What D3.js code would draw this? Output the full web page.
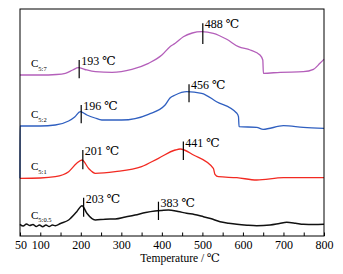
<!DOCTYPE html>
<html>
<head>
<meta charset="utf-8">
<script src="https://cdn.jsdelivr.net/npm/d3@7/dist/d3.min.js"></script>
<style>
  html, body { margin: 0; padding: 0; background: #fff; }
  svg { display: block; }
  text { font-family: "Liberation Serif", "DejaVu Serif", "Times New Roman", serif; fill: #000; }
</style>
</head>
<body>
<svg id="chart" width="343" height="274"></svg>
<script>
// ---- data (temperature in °C, intensity in arbitrary units) ----
const xTickValues = [50, 100, 150, 200, 250, 300, 350, 400, 450, 500, 550, 600, 650, 700, 750, 800];
const xTickLabels = ["50", "100", "", "200", "", "300", "", "400", "", "500", "", "600", "", "700", "", "800"];
const axisTitle = "Temperature / \u2103";

const seriesNames = ["C5:7", "C5:2", "C5:1", "C5:0.5"];
const seriesMain = ["C", "C", "C", "C"];
const seriesSub = ["5:7", "5:2", "5:1", "5:0.5"];
const seriesColors = ["#b45fba", "#2f5fc0", "#f22a22", "#111111"];

const purpleData = [
  [50, 161], [100, 161], [140, 161.5], [162, 162.7], [180, 166], [194, 168.3], [210, 166.5],
  [236, 164.3], [277, 163.7], [326, 166.7], [367, 172.7], [400, 181], [420, 189.3],
  [433, 192.7], [453, 199.3], [475, 203], [498, 204.3], [527, 202.7], [560, 196.7],
  [589, 189.3], [618, 186], [642, 181], [649, 176], [650.5, 162.7], [692, 163.7],
  [749, 164.3], [774, 166.7], [790, 172.7], [800, 176.7]
];
const blueData = [
  [50, 57.7], [50.2, 110], [100, 110], [137, 111], [170, 115], [185, 119], [198.6, 124.3],
  [215, 121], [235, 118], [252, 116], [301, 116], [367, 121.7], [408, 131], [420, 138],
  [433, 141], [461.5, 144.3], [498, 142.7], [535, 134.3], [585, 122.7], [589, 119.3],
  [590.5, 109.3], [634, 108.7], [650, 106.7], [700, 110.3], [749, 108.7], [800, 107.7]
];
const redData = [
  [50, 57.7], [100, 58], [137, 59.3], [170, 64.3], [190, 72.7], [203, 76], [219, 67.7],
  [235.6, 62.7], [285, 64.3], [350, 69.3], [391.6, 77.7], [433, 86], [445, 87],
  [478, 81], [527, 67.7], [531, 61.7], [539.5, 59.3], [585, 58.3], [634, 56],
  [700, 58.3], [800, 58.3]
];
const blackData = [
  [50, 11.7], [58, 10], [66, 12], [74, 10.5], [82, 11.5], [90, 9.5], [98, 11], [106, 9.3],
  [114, 11], [122, 9.5], [130, 11], [137, 10.3], [150, 12.5], [170, 16], [190, 24.3],
  [203, 30.3], [215, 22.7], [235.6, 16], [260, 16.8], [285, 17], [310, 19], [334, 21],
  [360, 23.5], [383, 25], [400, 25.6], [416, 26], [440, 24.5], [461, 22.7], [480, 21.5],
  [502.5, 19.3], [520, 17.5], [543.6, 14.3], [565, 12.8], [585, 11.7], [610, 10.8],
  [634, 10.3], [667, 11], [690, 12.5], [708, 13.7], [730, 12.8], [749, 11.7], [775, 11.5], [800, 11.7]
];
const allSeries = [purpleData, blueData, redData, blackData];

// peak annotations: label text, marker temperature, marker top/bottom intensity
const peakLabels = ["193 \u2103", "488 \u2103", "196 \u2103", "456 \u2103", "201 \u2103", "441 \u2103", "203 \u2103", "383 \u2103"];
const peakMarkerT = [196, 501, 201, 467, 205, 453, 207, 391.6];
const peakTop = [176, 212.7, 131, 151.7, 86, 94.5, 38.3, 34.3];
const peakBottom = [157.7, 192, 112.7, 133.7, 66.7, 76, 19.3, 16];

// ---- layout ----
const svg = d3.select("#chart");
const margin = { left: 20, right: 19, top: 9, bottom: 38 };
const W = 343, H = 274;
const x = d3.scaleLinear().domain([50, 800]).range([margin.left, W - margin.right]);
const y = d3.scaleLinear().domain([0, 227]).range([H - margin.bottom, margin.top]);

// series lines
const line = d3.line().x(d => x(d[0])).y(d => y(d[1])).curve(d3.curveMonotoneX);
allSeries.forEach((data, i) => {
  svg.append("path")
    .datum(data)
    .attr("d", line)
    .attr("fill", "none")
    .attr("stroke", seriesColors[i])
    .attr("stroke-width", i === 3 ? 1.5 : 1.3)
    .attr("stroke-linejoin", "round");
});

// frame
svg.append("rect")
  .attr("x", x(50)).attr("y", y(227))
  .attr("width", x(800) - x(50)).attr("height", y(0) - y(227))
  .attr("fill", "none").attr("stroke", "#000").attr("stroke-width", 1);

// x axis (ticks pointing inward)
const xAxis = d3.axisBottom(x)
  .tickValues(xTickValues)
  .tickFormat((d, i) => xTickLabels[i])
  .tickSizeInner(-3.5)
  .tickSizeOuter(0)
  .tickPadding(4);
const gx = svg.append("g").attr("transform", `translate(0,${y(0)})`).call(xAxis);
gx.select(".domain").remove();
gx.selectAll(".tick line").attr("stroke", "#000");
gx.selectAll(".tick text")
  .style("font-family", "'Liberation Serif', serif")
  .style("font-size", "12px")
  .attr("fill", "#000")
  .attr("dx", d => d === 50 ? 0.5 : 0);

// axis title
svg.append("text")
  .attr("x", (x(50) + x(800)) / 2 + 8)
  .attr("y", 262)
  .attr("text-anchor", "middle")
  .style("font-size", "11.5px")
  .text(axisTitle);

// series labels
allSeries.forEach((data, i) => {
  const ref = data.find(d => d[0] >= 90);
  const t = svg.append("text")
    .attr("x", 31)
    .attr("y", y(ref[1]) - 8)
    .style("font-size", "11px");
  t.append("tspan").text(seriesMain[i]);
  t.append("tspan").attr("dy", 3.5).style("font-size", "6.5px").text(seriesSub[i]);
});

// peak markers and labels
peakLabels.forEach((lab, i) => {
  const px = x(peakMarkerT[i]);
  svg.append("line")
    .attr("x1", px).attr("x2", px)
    .attr("y1", y(peakTop[i])).attr("y2", y(peakBottom[i]))
    .attr("stroke", "#000").attr("stroke-width", 1.2);
  svg.append("text")
    .attr("x", px + 2)
    .attr("y", y(peakTop[i]) + 5)
    .style("font-size", "12px")
    .text(lab);
});
</script>
</body>
</html>
